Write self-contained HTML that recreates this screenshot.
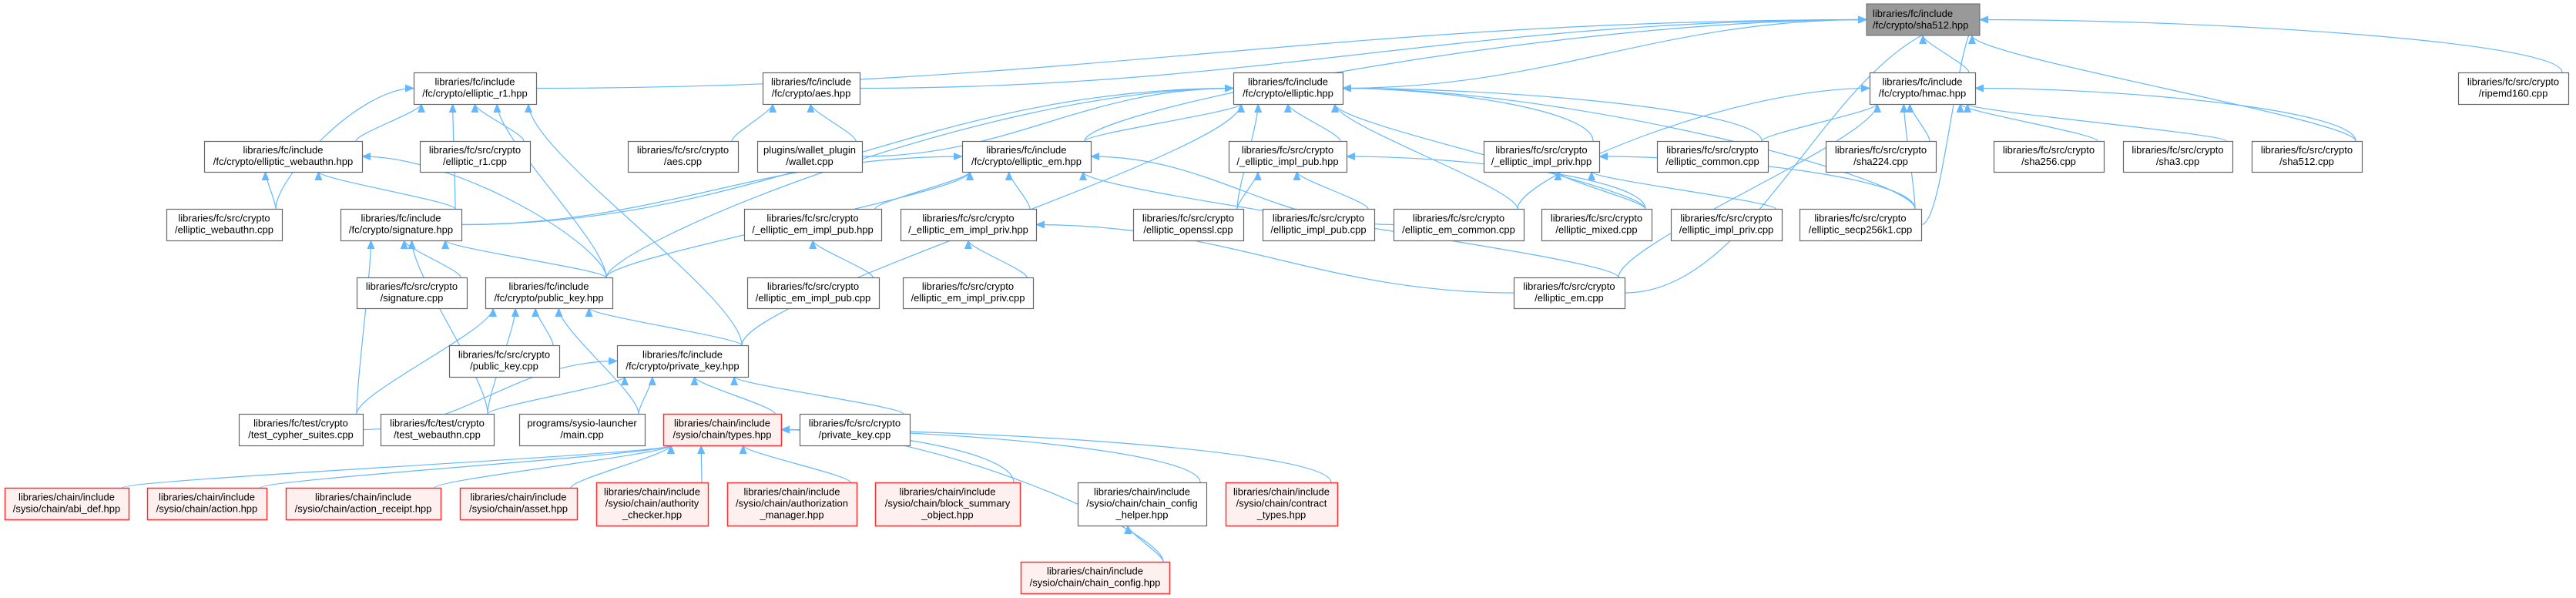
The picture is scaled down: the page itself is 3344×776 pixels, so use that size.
<!DOCTYPE html>
<html><head><meta charset="utf-8"><style>
html,body{margin:0;padding:0;background:#fff}
svg{display:block}
text{font-family:"Liberation Sans",Arial,sans-serif;font-size:13px;fill:#000}
</style></head><body>
<svg id="g" width="3344" height="776" viewBox="0 0 3344 776" xmlns="http://www.w3.org/2000/svg">
<defs><marker id="a" markerWidth="12" markerHeight="10" refX="11" refY="5" orient="auto" markerUnits="userSpaceOnUse"><path d="M0,0 L12,5 L0,10 z" fill="#63b8ff"/></marker></defs>
<g id="edges" fill="none" stroke="#63b8ff" stroke-width="1.2"></g>
<g id="nodes">
<rect x="2423" y="5" width="147" height="41" fill="#999" stroke="#666"/><text x="2431" y="22">libraries/fc/include</text><text x="2431" y="37">/fc/crypto/sha512.hpp</text>
</g>
</svg>
<script>
var N={
r1h:[537,94,696,135,"libraries/fc/include","/fc/crypto/elliptic_r1.hpp"],
aesh:[990,94,1116,135,"libraries/fc/include","/fc/crypto/aes.hpp"],
ellh:[1601,94,1743,135,"libraries/fc/include","/fc/crypto/elliptic.hpp"],
hmach:[2427,94,2564,135,"libraries/fc/include","/fc/crypto/hmac.hpp"],
ripemd:[3191,94,3334,135,"libraries/fc/src/crypto","/ripemd160.cpp"],
webh:[265,183,470,223,"libraries/fc/include","/fc/crypto/elliptic_webauthn.hpp"],
r1cpp:[545,183,688,223,"libraries/fc/src/crypto","/elliptic_r1.cpp"],
aescpp:[815,183,958,223,"libraries/fc/src/crypto","/aes.cpp"],
wallet:[983,183,1119,223,"plugins/wallet_plugin","/wallet.cpp"],
emh:[1249,183,1416,223,"libraries/fc/include","/fc/crypto/elliptic_em.hpp"],
implpubh:[1595,183,1748,223,"libraries/fc/src/crypto","/_elliptic_impl_pub.hpp"],
implprivh:[1926,183,2076,223,"libraries/fc/src/crypto","/_elliptic_impl_priv.hpp"],
commoncpp:[2151,183,2295,223,"libraries/fc/src/crypto","/elliptic_common.cpp"],
sha224:[2370,183,2513,223,"libraries/fc/src/crypto","/sha224.cpp"],
sha256:[2588,183,2731,223,"libraries/fc/src/crypto","/sha256.cpp"],
sha3:[2756,183,2898,223,"libraries/fc/src/crypto","/sha3.cpp"],
sha512cpp:[2923,183,3066,223,"libraries/fc/src/crypto","/sha512.cpp"],
webcpp:[216,271,366,312,"libraries/fc/src/crypto","/elliptic_webauthn.cpp"],
sigh:[442,271,599,312,"libraries/fc/include","/fc/crypto/signature.hpp"],
emimplpubh:[966,271,1144,312,"libraries/fc/src/crypto","/_elliptic_em_impl_pub.hpp"],
emimplprivh:[1169,271,1345,312,"libraries/fc/src/crypto","/_elliptic_em_impl_priv.hpp"],
openssl:[1471,271,1614,312,"libraries/fc/src/crypto","/elliptic_openssl.cpp"],
implpubcpp:[1639,271,1784,312,"libraries/fc/src/crypto","/elliptic_impl_pub.cpp"],
emcommon:[1809,271,1978,312,"libraries/fc/src/crypto","/elliptic_em_common.cpp"],
mixed:[2001,271,2144,312,"libraries/fc/src/crypto","/elliptic_mixed.cpp"],
implprivcpp:[2169,271,2313,312,"libraries/fc/src/crypto","/elliptic_impl_priv.cpp"],
secp:[2336,271,2494,312,"libraries/fc/src/crypto","/elliptic_secp256k1.cpp"],
sigcpp:[463,360,606,400,"libraries/fc/src/crypto","/signature.cpp"],
pubh:[630,360,795,400,"libraries/fc/include","/fc/crypto/public_key.hpp"],
emimplpubcpp:[970,360,1141,400,"libraries/fc/src/crypto","/elliptic_em_impl_pub.cpp"],
emimplprivcpp:[1172,360,1341,400,"libraries/fc/src/crypto","/elliptic_em_impl_priv.cpp"],
emcpp:[1965,360,2109,400,"libraries/fc/src/crypto","/elliptic_em.cpp"],
pubcpp:[583,448,726,489,"libraries/fc/src/crypto","/public_key.cpp"],
privh:[801,448,971,489,"libraries/fc/include","/fc/crypto/private_key.hpp"],
cypher:[310,537,471,578,"libraries/fc/test/crypto","/test_cypher_suites.cpp"],
testweb:[494,537,641,578,"libraries/fc/test/crypto","/test_webauthn.cpp"],
main:[674,537,837,578,"programs/sysio-launcher","/main.cpp"],
types:[861,537,1014,578,"libraries/chain/include","/sysio/chain/types.hpp","r"],
privcpp:[1038,537,1181,578,"libraries/fc/src/crypto","/private_key.cpp"],
abi:[6,633,167,674,"libraries/chain/include","/sysio/chain/abi_def.hpp","r"],
action:[191,633,346,674,"libraries/chain/include","/sysio/chain/action.hpp","r"],
receipt:[371,633,572,674,"libraries/chain/include","/sysio/chain/action_receipt.hpp","r"],
asset:[597,633,749,674,"libraries/chain/include","/sysio/chain/asset.hpp","r"],
authchk:[774,626,919,682,"libraries/chain/include","/sysio/chain/authority","_checker.hpp","r"],
authmgr:[944,626,1112,682,"libraries/chain/include","/sysio/chain/authorization","_manager.hpp","r"],
block:[1136,626,1324,682,"libraries/chain/include","/sysio/chain/block_summary","_object.hpp","r"],
helper:[1399,626,1566,682,"libraries/chain/include","/sysio/chain/chain_config","_helper.hpp"],
contract:[1591,626,1736,682,"libraries/chain/include","/sysio/chain/contract","_types.hpp","r"],
chaincfg:[1325,729,1518,770,"libraries/chain/include","/sysio/chain/chain_config.hpp","r"],
sha512h:[2423,5,2570,46]
};
var E=[
["r1h","sha512h","R","L"],["aesh","sha512h","R","L"],["ellh","sha512h","R","L"],["emh","sha512h","T","L"],
["hmach","sha512h","T","B"],["sha512cpp","sha512h","T","B"],["ripemd","sha512h","T","R"],["secp","sha512h","R","R"],["emcpp","sha512h","R","R"],
["webh","r1h"],["webcpp","r1h","T","L"],["sigh","r1h"],["r1cpp","r1h"],["pubh","r1h"],["privh","r1h"],
["aescpp","aesh"],["wallet","aesh"],
["wallet","ellh","R","L"],["emh","ellh"],["sigh","ellh","R","L"],["pubh","ellh","T","L"],["privh","ellh"],["implpubh","ellh"],["openssl","ellh"],
["mixed","ellh"],["emcommon","ellh"],["implprivh","ellh","T","R"],["commoncpp","ellh","T","R"],["secp","ellh","T","R"],
["webcpp","webh"],["sigh","webh"],["pubh","webh","T","R"],
["sigh","emh","R","L"],["pubh","emh"],["emimplpubh","emh"],["emimplprivh","emh"],["emcommon","emh","L","R"],["emcpp","emh"],
["openssl","implpubh"],["implpubcpp","implpubh"],["mixed","implpubh","T","R"],
["mixed","implprivh"],["implprivcpp","implprivh"],["secp","implprivh","T","R"],
["commoncpp","hmach"],["sha224","hmach"],["sha256","hmach"],["sha3","hmach"],["sha512cpp","hmach","T","R"],["secp","hmach"],["emcpp","hmach"],["emcommon","hmach","T","L"],
["sigcpp","sigh"],["pubh","sigh"],["cypher","sigh"],["testweb","sigh"],
["emimplpubcpp","emimplpubh"],["emimplprivcpp","emimplprivh"],["emcpp","emimplprivh","L","R"],
["pubcpp","pubh"],["privh","pubh"],["cypher","pubh"],["testweb","pubh"],["main","pubh"],
["cypher","privh","R","L"],["testweb","privh"],["main","privh"],["types","privh"],["privcpp","privh"],
["abi","types"],["action","types"],["receipt","types"],["asset","types"],["authchk","types"],["authmgr","types"],
["block","types","T","R"],["helper","types","T","R"],["contract","types","T","R"],["chaincfg","types","T","R"],
["chaincfg","helper"]
];
var NS="http://www.w3.org/2000/svg",ng=document.getElementById("nodes"),eg=document.getElementById("edges");
function el(t,a,p){var e=document.createElementNS(NS,t);for(var k in a)e.setAttribute(k,a[k]);p.appendChild(e);return e;}
for(var k in N){if(k=="sha512h")continue;var n=N[k],red=n[n.length-1]=="r";var lines=n.slice(4).filter(function(s){return s!="r"});
el("rect",{x:n[0]+.5,y:n[1]+.5,width:n[2]-n[0],height:n[3]-n[1],fill:red?"#fff0f0":"#fff",stroke:red?"#ff3030":"#666","stroke-width":red?1.5:1.2},ng);
var cx=(n[0]+n[2])/2,h=n[3]-n[1],y0=n[1]+h/2-lines.length*15/2+11;
lines.forEach(function(s,i){var t=el("text",{x:cx,y:y0+i*15,"text-anchor":"middle"},ng);t.textContent=s;});}
function pt(n,s,o){var cx=(n[0]+n[2])/2,cy=(n[1]+n[3])/2;
if(s=="T")return[Math.max(n[0]+8,Math.min(n[2]-8,o)),n[1]];
if(s=="B")return[Math.max(n[0]+8,Math.min(n[2]-8,o)),n[3]];
if(s=="L")return[n[0],cy];return[n[2],cy];}
E.forEach(function(e){var c=N[e[0]],p=N[e[1]],cs=e[2]||"T",ps=e[3]||"B";
var pc=(p[0]+p[2])/2,cc=(c[0]+c[2])/2;
var a=pt(c,cs,pc+(cc-pc)*0.0+ (cc>pc?-(c[2]-c[0])/4:(c[2]-c[0])/4)*0+cc-cc+ (pc>cc? Math.min(cc+(c[2]-c[0])/3,pc):Math.max(cc-(c[2]-c[0])/3,pc)));
var b=pt(p,ps,cc>pc?Math.min(pc+(cc-pc)*0.3,p[2]-10):Math.max(pc+(cc-pc)*0.3,p[0]+10));
var d;
if(ps=="B"&&cs=="T"){var m=(a[1]+b[1])/2;d="M"+a[0]+","+a[1]+" C"+a[0]+","+(a[1]-(a[1]-b[1])*0.2)+" "+b[0]+","+(b[1]+(a[1]-b[1])*0.2)+" "+b[0]+","+b[1];}
else{var dx=(b[0]-a[0])*0.4;d="M"+a[0]+","+a[1]+" C"+(cs=="T"?a[0]:a[0]+dx)+","+(cs=="T"?a[1]-40:a[1])+" "+(b[0]-dx)+","+b[1]+" "+b[0]+","+b[1];}
el("path",{d:d,"marker-end":"url(#a)"},eg);});
</script>
</body></html>
